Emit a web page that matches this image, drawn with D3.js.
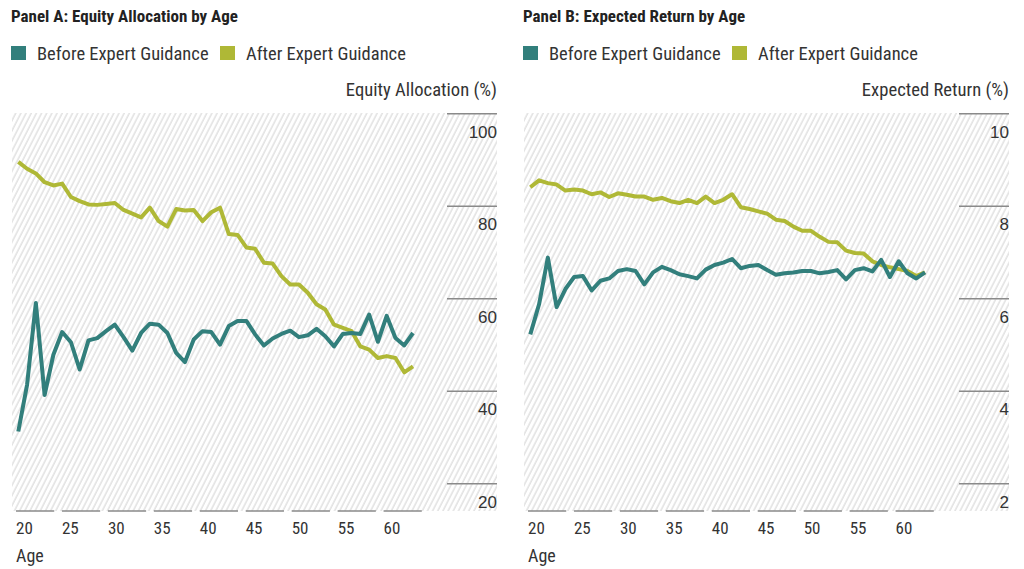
<!DOCTYPE html>
<html>
<head>
<meta charset="utf-8">
<script src="https://cdn.jsdelivr.net/npm/d3@7"></script>
<style>
  html, body { margin: 0; padding: 0; background: #fff; }
  svg { display: block; font-family: "Liberation Sans Narrow", "Arial Narrow", "Roboto Condensed", sans-serif; }
</style>
</head>
<body>
<svg id="chart" width="1024" height="569"></svg>
<script>
// ages on the x axis
var ages = [20, 21, 22, 23, 24, 25, 26, 27, 28, 29, 30, 31, 32, 33, 34, 35, 36, 37, 38, 39, 40, 41, 42,
  43, 44, 45, 46, 47, 48, 49, 50, 51, 52, 53, 54, 55, 56, 57, 58, 59, 60, 61, 62, 63, 64, 65];
var ageLabels = [20, 25, 30, 35, 40, 45, 50, 55, 60];

// Panel A: equity allocation (%)
var equityBefore = [31.2, 41.3, 59.0, 39.1, 47.8, 52.7, 50.5, 44.6, 50.9, 51.4, 52.9, 54.3, 51.6, 48.7, 52.5,
  54.5, 54.3, 52.5, 48.2, 46.2, 51.1, 52.9, 52.7, 50.0, 54.0, 55.1, 55.1, 52.2, 49.8, 51.3, 52.3, 53.0,
  51.6, 52.0, 53.4, 51.8, 49.6, 52.3, 52.5, 52.3, 56.5, 50.6, 56.2, 51.4, 49.8, 52.5];
var equityAfter = [89.5, 88.0, 87.0, 85.1, 84.4, 84.8, 81.9, 81.0, 80.3, 80.2, 80.4, 80.6, 79.1, 78.3, 77.5,
  79.6, 76.7, 75.5, 79.3, 79.0, 79.1, 76.7, 78.6, 79.6, 73.9, 73.7, 71.0, 70.7, 67.7, 67.5, 64.8, 63.0,
  63.0, 61.2, 58.7, 57.6, 54.3, 53.6, 52.9, 49.6, 48.9, 47.1, 47.5, 47.1, 44.0, 45.3];
var equityTicks = [20, 40, 60, 80, 100];

// Panel B: expected return (%)
var returnBefore = [5.22, 5.87, 6.88, 5.81, 6.20, 6.46, 6.48, 6.17, 6.38, 6.43, 6.59, 6.63, 6.59, 6.30, 6.56,
  6.68, 6.61, 6.52, 6.48, 6.43, 6.62, 6.72, 6.77, 6.85, 6.65, 6.70, 6.72, 6.61, 6.51, 6.54, 6.56, 6.59,
  6.59, 6.54, 6.57, 6.61, 6.41, 6.61, 6.65, 6.58, 6.83, 6.46, 6.80, 6.54, 6.43, 6.56];
var returnAfter = [8.40, 8.55, 8.49, 8.46, 8.33, 8.35, 8.33, 8.25, 8.29, 8.19, 8.27, 8.24, 8.20, 8.20, 8.13,
  8.17, 8.10, 8.06, 8.13, 8.06, 8.20, 8.06, 8.13, 8.25, 7.97, 7.93, 7.88, 7.83, 7.70, 7.67, 7.55, 7.46,
  7.46, 7.33, 7.22, 7.21, 7.03, 6.98, 6.97, 6.80, 6.72, 6.67, 6.63, 6.59, 6.48, 6.56];
var returnTicks = [2, 4, 6, 8, 10];

var seriesNames = ["Before Expert Guidance", "After Expert Guidance"];
var colors = ["#327f7c", "#afb836"];

var svg = d3.select("#chart");

// diagonal hatch used behind both plots
var pattern = svg.append("defs").append("pattern")
  .attr("id", "hatch")
  .attr("patternUnits", "userSpaceOnUse")
  .attr("width", 4.6)
  .attr("height", 10)
  .attr("patternTransform", "rotate(27)");
pattern.append("line")
  .attr("x1", 1).attr("y1", 0).attr("x2", 1).attr("y2", 10)
  .attr("stroke", "#d6d6d6").attr("stroke-width", 1.1);

function drawPanel(offset, title, axisTitle, before, after, ticks) {
  var g = svg.append("g").attr("transform", "translate(" + offset + ",0)");

  var x = d3.scaleLinear().domain([ages[0], ages[ages.length - 1]]).range([18.3, 413]);
  var y = d3.scaleLinear().domain([ticks[0], ticks[ticks.length - 1]]).range([483.3, 113.3]);
  var band = d3.scaleBand().domain(ageLabels).range([16, 421.8]).paddingInner(0.168).paddingOuter(0);

  g.append("rect")
    .attr("x", 12).attr("y", 113)
    .attr("width", 485).attr("height", 398)
    .attr("fill", "url(#hatch)");

  g.append("text")
    .attr("x", 11).attr("y", 22)
    .attr("font-size", 17).attr("font-weight", "bold").attr("fill", "#222")
    .text(title);

  // legend
  var legend = g.append("g");
  var lx = [11, 220];
  seriesNames.forEach(function(name, i) {
    legend.append("rect")
      .attr("x", lx[i]).attr("y", 46)
      .attr("width", 15).attr("height", 14)
      .attr("fill", colors[i]);
    legend.append("text")
      .attr("x", lx[i] + 26).attr("y", 60)
      .attr("font-size", 18.5).attr("fill", "#333")
      .text(name);
  });

  g.append("text")
    .attr("x", 497).attr("y", 96)
    .attr("text-anchor", "end")
    .attr("font-size", 18.6).attr("fill", "#333")
    .text(axisTitle);

  // y axis: short rules on the right, labels under them
  var yAxis = g.append("g")
    .attr("transform", "translate(497,0)")
    .call(d3.axisLeft(y).tickValues(ticks).tickSize(50).tickFormat(d3.format("d")));
  yAxis.select(".domain").remove();
  yAxis.selectAll(".tick line").attr("stroke", "#8a8a8a").attr("stroke-width", 1.6);
  yAxis.selectAll(".tick text")
    .attr("x", 0).attr("dy", 24)
    .attr("text-anchor", "end")
    .attr("font-size", 17).attr("fill", "#333")
    .attr("font-family", null);

  // x axis: broken segments with labels at their left end
  var xAxis = g.append("g");
  xAxis.selectAll("line")
    .data(ageLabels)
    .join("line")
    .attr("x1", function(d) { return band(d); })
    .attr("x2", function(d) { return band(d) + band.bandwidth(); })
    .attr("y1", 511).attr("y2", 511)
    .attr("stroke", "#8a8a8a").attr("stroke-width", 1.6);
  xAxis.selectAll("text")
    .data(ageLabels)
    .join("text")
    .attr("x", function(d) { return band(d); })
    .attr("y", 534)
    .attr("font-size", 17).attr("fill", "#333")
    .text(function(d) { return d; });

  g.append("text")
    .attr("x", 16).attr("y", 562)
    .attr("font-size", 18).attr("fill", "#333")
    .text("Age");

  var line = d3.line()
    .x(function(d, i) { return x(ages[i]); })
    .y(function(d) { return y(d); });

  [after, before].forEach(function(values) {
    g.append("path")
      .datum(values)
      .attr("fill", "none")
      .attr("stroke", values === before ? colors[0] : colors[1])
      .attr("stroke-width", 4)
      .attr("stroke-linejoin", "round")
      .attr("d", line);
  });
}

drawPanel(0, "Panel A: Equity Allocation by Age", "Equity Allocation (%)", equityBefore, equityAfter, equityTicks);
drawPanel(512, "Panel B: Expected Return by Age", "Expected Return (%)", returnBefore, returnAfter, returnTicks);
</script>
</body>
</html>
